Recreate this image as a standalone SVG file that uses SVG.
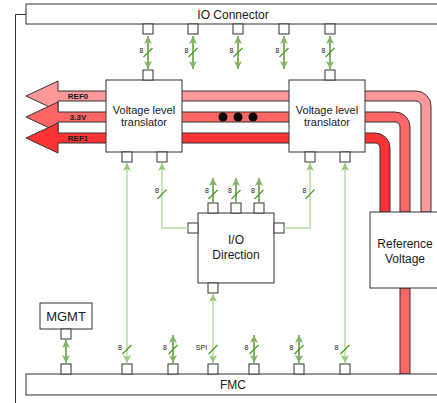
<svg xmlns="http://www.w3.org/2000/svg" width="437" height="403" viewBox="0 0 437 403">
<style>
.box{fill:#fff;stroke:#333;stroke-width:1}
.port{fill:#fff;stroke:#333;stroke-width:1}
.t{font-family:"Liberation Sans",Arial,sans-serif;fill:#1a1a1a;text-anchor:middle}
.big{font-size:12px}
.mid{font-size:11px}
.bl{font-size:8px;font-weight:bold}
.sm{font-size:7px}
.sg{stroke:#82b366;stroke-width:2;fill:none}
.pg{stroke:#b9e0a5;stroke-width:1.6;fill:none}
.sl{stroke:#4f9a2a;stroke-width:1.2}
.band{stroke:#333;stroke-width:1}
</style>
<defs>
<marker id="ah" viewBox="0 0 10 10" refX="10" refY="5" markerWidth="8" markerHeight="9" markerUnits="userSpaceOnUse" orient="auto-start-reverse">
<path d="M0,0 L10,5 L0,10 L2.5,5 z" fill="#82b366"/>
</marker>
<marker id="ahp" viewBox="0 0 10 10" refX="10" refY="5" markerWidth="8" markerHeight="9" markerUnits="userSpaceOnUse" orient="auto-start-reverse">
<path d="M0,0 L10,5 L0,10 L2.5,5 z" fill="#97c97a"/>
</marker>
</defs>

<path d="M26,14.5 H15.5 V403" fill="none" stroke="#333" stroke-width="1"/>

<g id="bands">
<path class="band" fill="#ff9999" d="M26,96 L58,81 L58,91 H416 A15,15 0 0 1 431,106 V212 H421 V106 A5,5 0 0 0 416,101 H58 V111 Z"/>
<path class="band" fill="#ff6666" d="M26,117 L58,102 L58,112 H395 A15,15 0 0 1 410,127 V212 H400 V127 A5,5 0 0 0 395,122 H58 V132 Z"/>
<path class="band" fill="#ff3333" d="M26,138 L58,123 L58,133 H375 A15,15 0 0 1 390,148 V212 H380 V148 A5,5 0 0 0 375,143 H58 V153 Z"/>
<rect class="band" fill="#ff6666" x="400" y="288" width="10" height="86"/>
<text class="t bl" x="78" y="98.9">REF0</text>
<text class="t bl" x="78" y="119.9">3.3V</text>
<text class="t bl" x="78" y="140.9">REF1</text>
<circle cx="223" cy="117" r="4.5" fill="#000"/>
<circle cx="238" cy="117" r="4.5" fill="#000"/>
<circle cx="253" cy="117" r="4.5" fill="#000"/>
</g>

<g id="io-connector">
<rect class="box" x="26" y="4" width="420" height="20"/>
<text class="t big" x="233" y="18.8">IO Connector</text>
<rect class="port" x="143" y="24" width="10" height="10"/>
<rect class="port" x="188" y="24" width="10" height="10"/>
<rect class="port" x="233" y="24" width="10" height="10"/>
<rect class="port" x="279" y="24" width="10" height="10"/>
<rect class="port" x="325" y="24" width="10" height="10"/>
</g>

<g id="translator-left">
<rect class="box" x="106" y="80" width="76" height="72"/>
<text class="t mid" x="144" y="113.9">Voltage level</text>
<text class="t mid" x="144" y="126.2">translator</text>
<rect class="port" x="143" y="70" width="10" height="10"/>
<rect class="port" x="122" y="152" width="10" height="10"/>
<rect class="port" x="157" y="152" width="10" height="10"/>
</g>

<g id="translator-right">
<rect class="box" x="289" y="80" width="76" height="72"/>
<text class="t mid" x="327" y="113.9">Voltage level</text>
<text class="t mid" x="327" y="126.2">translator</text>
<rect class="port" x="325" y="70" width="10" height="10"/>
<rect class="port" x="305" y="152" width="10" height="10"/>
<rect class="port" x="340" y="152" width="10" height="10"/>
</g>

<g id="io-direction">
<rect class="box" x="198" y="213" width="76" height="70"/>
<text class="t big" x="236" y="244.3">I/O</text>
<text class="t big" x="236" y="259.3">Direction</text>
<rect class="port" x="208" y="203" width="10" height="10"/>
<rect class="port" x="231" y="203" width="10" height="10"/>
<rect class="port" x="254" y="203" width="10" height="10"/>
<rect class="port" x="188" y="223" width="10" height="10"/>
<rect class="port" x="274" y="223" width="10" height="10"/>
<rect class="port" x="208" y="283" width="10" height="10"/>
</g>

<g id="reference-voltage">
<rect class="box" x="370" y="212" width="75" height="76"/>
<text class="t big" x="405" y="247.6">Reference</text>
<text class="t big" x="405" y="262.6">Voltage</text>
</g>

<g id="mgmt">
<rect class="box" x="40" y="303" width="52" height="26"/>
<text class="t" style="font-size:13px" x="66" y="321.3">MGMT</text>
<rect class="port" x="61" y="329" width="10" height="10"/>
</g>

<g id="fmc">
<rect class="box" x="26" y="374" width="420" height="21"/>
<text class="t big" x="233" y="389.3">FMC</text>
<rect class="port" x="61" y="364" width="10" height="10"/>
<rect class="port" x="122" y="364" width="10" height="10"/>
<rect class="port" x="168" y="364" width="10" height="10"/>
<rect class="port" x="208" y="364" width="10" height="10"/>
<rect class="port" x="249" y="364" width="10" height="10"/>
<rect class="port" x="294" y="364" width="10" height="10"/>
<rect class="port" x="340" y="364" width="10" height="10"/>
</g>

<g id="connectors">
<!-- IO connector to translators / IO -->
<line class="sg" x1="148" y1="36" x2="148" y2="69" marker-start="url(#ah)" marker-end="url(#ah)"/>
<line class="sg" x1="193" y1="36" x2="193" y2="69" marker-start="url(#ah)" marker-end="url(#ah)"/>
<line class="sg" x1="238" y1="36" x2="238" y2="69" marker-start="url(#ah)" marker-end="url(#ah)"/>
<line class="sg" x1="284" y1="36" x2="284" y2="69" marker-start="url(#ah)" marker-end="url(#ah)"/>
<line class="sg" x1="330" y1="36" x2="330" y2="69" marker-start="url(#ah)" marker-end="url(#ah)"/>
<line class="sl" x1="143.5" y1="57" x2="152.5" y2="48"/>
<line class="sl" x1="188.5" y1="57" x2="197.5" y2="48"/>
<line class="sl" x1="233.5" y1="57" x2="242.5" y2="48"/>
<line class="sl" x1="279.5" y1="57" x2="288.5" y2="48"/>
<line class="sl" x1="325.5" y1="57" x2="334.5" y2="48"/>
<text class="t sm" x="141.5" y="52.5">8</text>
<text class="t sm" x="186.5" y="52.5">8</text>
<text class="t sm" x="231.5" y="52.5">8</text>
<text class="t sm" x="277.5" y="52.5">8</text>
<text class="t sm" x="323.5" y="52.5">8</text>

<!-- IO direction top outputs -->
<line class="sg" x1="213" y1="203" x2="213" y2="178" marker-end="url(#ah)"/>
<line class="sg" x1="236" y1="203" x2="236" y2="178" marker-end="url(#ah)"/>
<line class="sg" x1="259" y1="203" x2="259" y2="178" marker-end="url(#ah)"/>
<line class="sl" x1="208.5" y1="199" x2="217.5" y2="190"/>
<line class="sl" x1="231.5" y1="199" x2="240.5" y2="190"/>
<line class="sl" x1="254.5" y1="199" x2="263.5" y2="190"/>
<text class="t sm" x="207" y="193">8</text>
<text class="t sm" x="230" y="193">8</text>
<text class="t sm" x="253" y="193">8</text>

<!-- IO direction to translators -->
<polyline class="pg" points="188,228 162,228 162,163" marker-end="url(#ahp)"/>
<polyline class="pg" points="284,228 310,228 310,163" marker-end="url(#ahp)"/>
<line class="sl" x1="157.5" y1="199" x2="166.5" y2="189.5"/>
<line class="sl" x1="305.5" y1="199" x2="314.5" y2="189.5"/>
<text class="t sm" x="157" y="192.5">8</text>
<text class="t sm" x="304.5" y="192.5">8</text>

<!-- long lines FMC to translators -->
<line class="pg" x1="127" y1="163" x2="127" y2="363" marker-start="url(#ahp)" marker-end="url(#ahp)"/>
<line class="pg" x1="345" y1="163" x2="345" y2="363" marker-start="url(#ahp)" marker-end="url(#ahp)"/>
<!-- SPI -->
<line class="pg" x1="213" y1="294" x2="213" y2="363" marker-start="url(#ahp)" marker-end="url(#ahp)"/>

<!-- short FMC arrows -->
<line class="sg" x1="173" y1="335" x2="173" y2="363" marker-start="url(#ah)" marker-end="url(#ah)"/>
<line class="sg" x1="254" y1="335" x2="254" y2="363" marker-start="url(#ah)" marker-end="url(#ah)"/>
<line class="sg" x1="299" y1="335" x2="299" y2="363" marker-start="url(#ah)" marker-end="url(#ah)"/>
<line class="sg" x1="66" y1="340" x2="66" y2="363" marker-start="url(#ah)" marker-end="url(#ah)"/>

<line class="sl" x1="122.5" y1="354" x2="131.5" y2="345"/>
<line class="sl" x1="168.5" y1="354" x2="177.5" y2="345"/>
<line class="sl" x1="208.5" y1="354" x2="217.5" y2="345"/>
<line class="sl" x1="249.5" y1="354" x2="258.5" y2="345"/>
<line class="sl" x1="294.5" y1="354" x2="303.5" y2="345"/>
<line class="sl" x1="340.5" y1="354" x2="349.5" y2="345"/>
<text class="t sm" x="120" y="349.5">8</text>
<text class="t sm" x="165" y="349.5">8</text>
<text class="t sm" x="201.5" y="349.5">SPI</text>
<text class="t sm" x="246.5" y="349.5">8</text>
<text class="t sm" x="291.5" y="349.5">8</text>
<text class="t sm" x="336.5" y="349.5">8</text>
</g>
</svg>
